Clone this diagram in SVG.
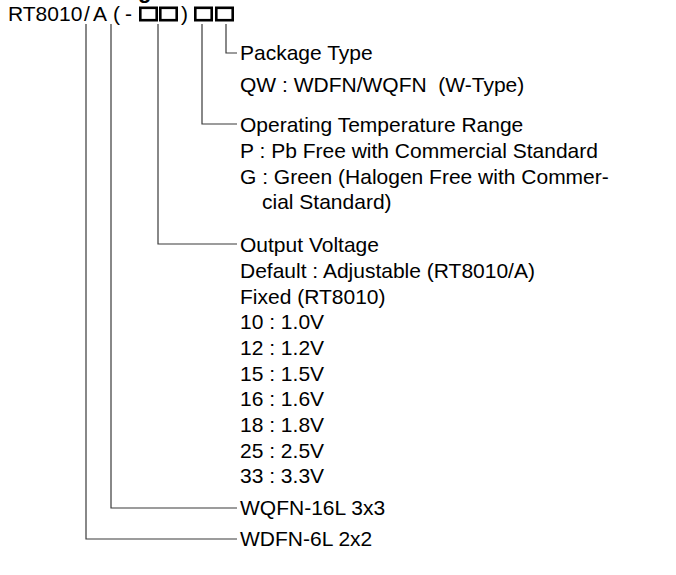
<svg xmlns="http://www.w3.org/2000/svg" width="676" height="575" viewBox="0 0 676 575">
<style>
text{font-family:"Liberation Sans",Arial,Helvetica,sans-serif;font-size:21px;fill:#000;white-space:pre}
.ttl{font-weight:bold;font-size:22px}
.box{fill:none;stroke:#000;stroke-width:2.6}
.c{fill:none;stroke:#3a3a3a;stroke-width:1.2}
</style>
<rect width="676" height="575" fill="#fff"/>
<g id="title-fragment"><text class="ttl" x="138" y="-2">g</text></g>
<g id="part-number">
<text x="8" y="21"><tspan x="8">RT8010</tspan><tspan x="84">/</tspan><tspan x="93">A</tspan><tspan x="113">(</tspan><tspan x="125">-</tspan></text>
<rect class="box" x="140.3" y="7.8" width="16.4" height="12.4"/>
<rect class="box" x="160.3" y="7.8" width="16.4" height="12.4"/>
<text x="181" y="21">)</text>
<rect class="box" x="195.3" y="7.8" width="16.4" height="12.4"/>
<rect class="box" x="216.3" y="7.8" width="16.4" height="12.4"/>
</g>
<g id="connectors">
<polyline class="c" points="226,24 226,53 237,53"/>
<polyline class="c" points="202,24 202,124 237,124"/>
<polyline class="c" points="158,24 158,244 237,244"/>
<polyline class="c" points="111,24 111,508 237,508"/>
<polyline class="c" points="86,24 86,539 237,539"/>
</g>
<g id="package-type">
<text x="240" y="60">Package Type</text>
<text x="240" y="92">QW : WDFN/WQFN  (W-Type)</text>
</g>
<g id="operating-temperature">
<text x="240" y="132">Operating Temperature Range</text>
<text x="240" y="158">P : Pb Free with Commercial Standard</text>
<text x="240" y="184">G : Green (Halogen Free with Commer-</text>
<text x="262" y="209">cial Standard)</text>
</g>
<g id="output-voltage">
<text x="240" y="252">Output Voltage</text>
<text x="240" y="278">Default : Adjustable (RT8010/A)</text>
<text x="240" y="304">Fixed (RT8010)</text>
<text x="240" y="329">10 : 1.0V</text>
<text x="240" y="355">12 : 1.2V</text>
<text x="240" y="381">15 : 1.5V</text>
<text x="240" y="406">16 : 1.6V</text>
<text x="240" y="432">18 : 1.8V</text>
<text x="240" y="458">25 : 2.5V</text>
<text x="240" y="483">33 : 3.3V</text>
</g>
<g id="wqfn"><text x="240" y="515">WQFN-16L 3x3</text></g>
<g id="wdfn"><text x="240" y="546">WDFN-6L 2x2</text></g>
</svg>
